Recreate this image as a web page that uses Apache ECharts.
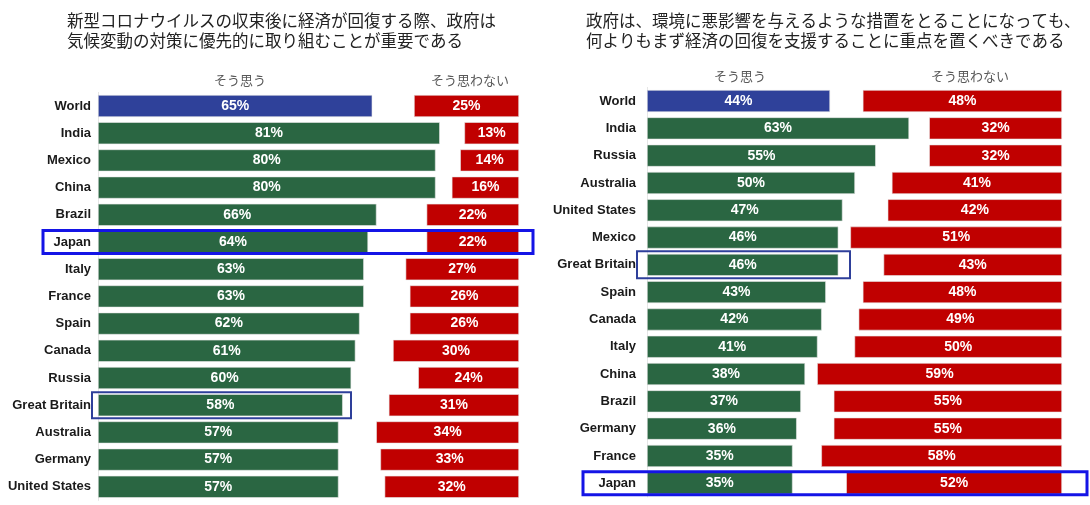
<!DOCTYPE html>
<html>
<head>
<meta charset="utf-8">
<script src="https://cdn.jsdelivr.net/npm/echarts@6/dist/echarts.min.js"></script>
<style>
  html, body { margin: 0; padding: 0; background: #fff; }
  #chart { width: 1090px; height: 505px; }
</style>
</head>
<body>
<div id="chart"></div>
<script>
// 左：気候変動対策を優先すべきか
var leftCountries = ['World', 'India', 'Mexico', 'China', 'Brazil', 'Japan', 'Italy', 'France', 'Spain', 'Canada', 'Russia', 'Great Britain', 'Australia', 'Germany', 'United States'];
var leftAgree = [65, 81, 80, 80, 66, 64, 63, 63, 62, 61, 60, 58, 57, 57, 57];
var leftDisagree = [25, 13, 14, 16, 22, 22, 27, 26, 26, 30, 24, 31, 34, 33, 32];

// 右：経済の回復を優先すべきか
var rightCountries = ['World', 'India', 'Russia', 'Australia', 'United States', 'Mexico', 'Great Britain', 'Spain', 'Canada', 'Italy', 'China', 'Brazil', 'Germany', 'France', 'Japan'];
var rightAgree = [44, 63, 55, 50, 47, 46, 46, 43, 42, 41, 38, 37, 36, 35, 35];
var rightDisagree = [48, 32, 32, 41, 42, 51, 43, 48, 49, 50, 59, 55, 55, 58, 52];

var leftTitle = '新型コロナウイルスの収束後に経済が回復する際、政府は\n気候変動の対策に優先的に取り組むことが重要である';
var rightTitle = '政府は、環境に悪影響を与えるような措置をとることになっても、\n何よりもまず経済の回復を支援することに重点を置くべきである';
var agreeLabel = 'そう思う';
var disagreeLabel = 'そう思わない';

var GREEN = '#2a6642';
var BLUE = '#2f419a';
var RED = '#c00000';
var FONT = '"Liberation Sans", Arial, sans-serif';
var JP = '"Noto Sans CJK JP", sans-serif';

var myChart = echarts.init(document.getElementById('chart'));

function barLabel() {
    return {
        show: true,
        position: 'inside',
        color: '#fff',
        fontWeight: 'bold',
        fontSize: 14,
        fontFamily: FONT,
        formatter: '{c}%'
    };
}

//4つのグリッド：左右パネルそれぞれに「そう思う」「そう思わない」
var grids = [
    {left: 98, width: 422, top: 92.4, height: 408},
    {left: 99, width: 420, top: 92.4, height: 408},
    {left: 647, width: 416, top: 87.4, height: 409.5},
    {left: 647, width: 415, top: 87.4, height: 409.5}
];

function xAx(gi, inverse) {
    return {
        type: 'value', gridIndex: gi, min: 0, max: 100, inverse: inverse,
        show: false
    };
}

function yAx(gi, cats, showLabels, margin) {
    return {
        type: 'category', gridIndex: gi, data: cats, inverse: true,
        axisTick: {show: false},
        axisLine: {show: showLabels, lineStyle: {color: '#e6e6e6'}},
        axisLabel: {
            show: showLabels, color: '#1a1a1a', fontWeight: 'bold',
            fontSize: 13, fontFamily: FONT, margin: margin
        }
    };
}

function agreeData(vals) {
    return vals.map(function (v, i) {
        return {value: v, itemStyle: {color: i === 0 ? BLUE : GREEN}};
    });
}

var option = {
    animation: false,
    backgroundColor: '#fff',
    title: [
        {
            text: leftTitle, left: 62, top: 6,
            textStyle: {fontFamily: JP, fontSize: 16.5, fontWeight: 'normal', color: '#222', lineHeight: 19.5}
        },
        {
            text: rightTitle, left: 581, top: 6,
            textStyle: {fontFamily: JP, fontSize: 16.5, fontWeight: 'normal', color: '#222', lineHeight: 19.5}
        }
    ],
    grid: grids,
    xAxis: [xAx(0, false), xAx(1, true), xAx(2, false), xAx(3, true)],
    yAxis: [
        yAx(0, leftCountries, true, 7), yAx(1, leftCountries, false, 7),
        yAx(2, rightCountries, true, 11), yAx(3, rightCountries, false, 11)
    ],
    series: [
        {type: 'bar', xAxisIndex: 0, yAxisIndex: 0, barWidth: 22, data: agreeData(leftAgree),
            itemStyle: {borderColor: '#e8e8e8', borderWidth: 0.6}, label: barLabel()},
        {type: 'bar', xAxisIndex: 1, yAxisIndex: 1, barWidth: 22, data: leftDisagree,
            itemStyle: {color: RED, borderColor: '#e8e8e8', borderWidth: 0.6}, label: barLabel()},
        {type: 'bar', xAxisIndex: 2, yAxisIndex: 2, barWidth: 22, data: agreeData(rightAgree),
            itemStyle: {borderColor: '#e8e8e8', borderWidth: 0.6}, label: barLabel()},
        {type: 'bar', xAxisIndex: 3, yAxisIndex: 3, barWidth: 22, data: rightDisagree,
            itemStyle: {color: RED, borderColor: '#e8e8e8', borderWidth: 0.6}, label: barLabel()}
    ]
};

myChart.setOption(option);

//見出しと強調枠を追加
function rowY(gi, name) {
    return myChart.convertToPixel({yAxisIndex: gi}, name);
}

function headText(x, y, txt) {
    return {
        type: 'text', x: x, y: y,
        style: {text: txt, fill: '#595959', font: '13px ' + JP, textAlign: 'center', textVerticalAlign: 'middle'}
    };
}

function box(x1, x2, cy, h, color, lw) {
    return {
        type: 'rect', z: 100,
        shape: {x: x1, y: cy - h / 2, width: x2 - x1, height: h},
        style: {fill: 'none', stroke: color, lineWidth: lw}
    };
}

var yJapanL = rowY(0, 'Japan');
var yGbL = rowY(0, 'Great Britain');
var yGbR = rowY(2, 'Great Britain');
var yJapanR = rowY(2, 'Japan');

myChart.setOption({
    graphic: [
        headText(240, 80, agreeLabel),
        headText(470, 80, disagreeLabel),
        headText(740, 76, agreeLabel),
        headText(970, 76, disagreeLabel),
        box(43, 533, yJapanL, 23, '#1414e6', 3),
        box(92, 351, yGbL, 26, '#2e3f9a', 2),
        box(637, 850, yGbR, 27, '#2e3f9a', 2),
        box(583, 1087, yJapanR, 23, '#1414e6', 3)
    ]
});
</script>
</body>
</html>
